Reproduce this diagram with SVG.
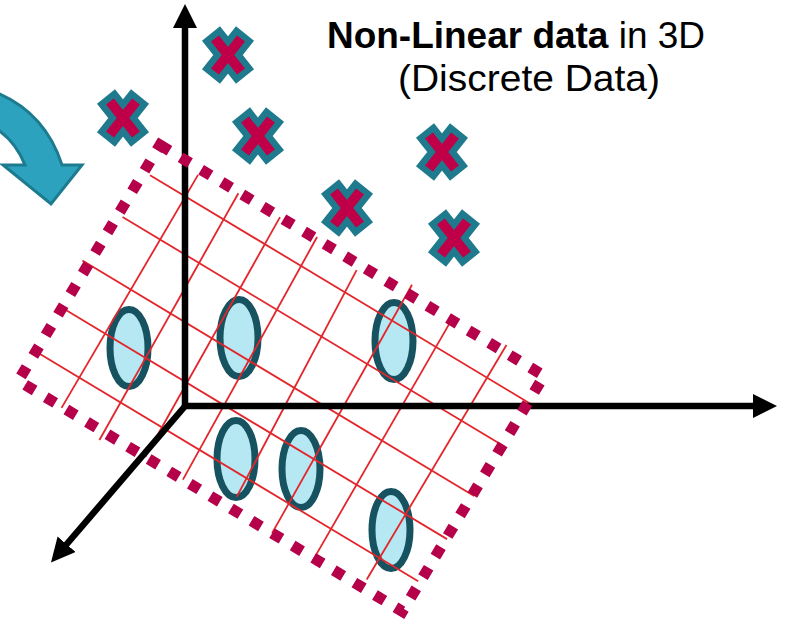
<svg xmlns="http://www.w3.org/2000/svg" width="785" height="625" viewBox="0 0 785 625">
<style>
.grid line{stroke:#e3262b;stroke-width:1.8}
.axis{stroke:#000;stroke-width:6.5;fill:none}
.ell{fill:#b5e8f3;stroke:#16525f;stroke-width:7}
.dots{fill:none;stroke:#b5004a;stroke-width:11;stroke-dasharray:11 13}
.title{font-family:"Liberation Sans",Arial,sans-serif;font-size:37px;fill:#000}
</style>
<defs>
<marker id="ah" markerUnits="userSpaceOnUse" markerWidth="24" markerHeight="24" viewBox="0 0 24 24" refX="1" refY="12" orient="auto"><path d="M0,0 L24,12 L0,24 Z" fill="#000"/></marker>
<g id="xmark">
<path d="M-17,-21.5 L17,21.5 M17,-21.5 L-17,21.5" stroke="#1e7a8c" stroke-width="23"/>
<path d="M-13,-16.5 L13,16.5 M13,-16.5 L-13,16.5" stroke="#bf0048" stroke-width="10"/>
</g>
</defs>
<rect width="785" height="625" fill="#fff"/>
<g id="ellipses">
<ellipse id="e1" class="ell" cx="129" cy="348" rx="19" ry="38.5"/>
<ellipse id="e2" class="ell" cx="239" cy="338" rx="19" ry="38.5"/>
<ellipse id="e3" class="ell" cx="394" cy="341" rx="19" ry="38.5"/>
<ellipse id="e4" class="ell" cx="236" cy="459" rx="19" ry="38.5"/>
<ellipse id="e5" class="ell" cx="301" cy="469" rx="19" ry="38.5"/>
<ellipse id="e6" class="ell" cx="391" cy="530" rx="19" ry="38.5"/>
</g>
<g id="grid" class="grid" transform="translate(160,145) rotate(31)">
<line x1="7" y1="31" x2="456" y2="31"/>
<line x1="5" y1="81" x2="450" y2="81"/>
<line x1="-7" y1="139" x2="450" y2="139"/>
<line x1="-2" y1="190" x2="449" y2="190"/>
<line x1="-3" y1="241" x2="446" y2="241"/>
<line x1="48" y1="6" x2="51" y2="276"/>
<line x1="92" y1="1" x2="100" y2="284"/>
<line x1="140" y1="0" x2="148" y2="275"/>
<line x1="182" y1="-2" x2="192" y2="275"/>
<line x1="233" y1="6" x2="247" y2="262"/>
<line x1="288" y1="-10" x2="296" y2="275"/>
<line x1="340" y1="2" x2="345" y2="277"/>
<line x1="400" y1="-7" x2="401" y2="266"/>
</g>
<g id="axes">
<line class="axis" x1="185" y1="409" x2="185" y2="27" marker-end="url(#ah)"/>
<line class="axis" x1="182" y1="406" x2="754" y2="406" marker-end="url(#ah)"/>
<line class="axis" x1="186" y1="405" x2="66" y2="545" marker-end="url(#ah)"/>
</g>
<g id="plane">
<rect class="dots" x="0" y="0" width="448" height="275" transform="translate(160,145) rotate(31)"/>
</g>
<g id="x1"><use href="#xmark" x="228" y="55"/></g>
<g id="x2"><use href="#xmark" x="123" y="118"/></g>
<g id="x3"><use href="#xmark" x="258" y="136"/></g>
<g id="x4"><use href="#xmark" x="442" y="152"/></g>
<g id="x5"><use href="#xmark" x="347" y="208"/></g>
<g id="x6"><use href="#xmark" x="454" y="238"/></g>
<g id="bigarrow">
<path d="M-5,92 Q45,112 62,165 L82,165 L51,204 L3,165 L25,165 Q15,140 -5,128 Z" fill="#2ca2bf" stroke="#1d7b8f" stroke-width="3" stroke-linejoin="miter"/>
</g>
<g id="title">
<text class="title" x="327" y="48" textLength="378" lengthAdjust="spacingAndGlyphs"><tspan font-weight="bold">Non-Linear data</tspan> in 3D</text>
<text class="title" x="398" y="91" textLength="262" lengthAdjust="spacingAndGlyphs">(Discrete Data)</text>
</g>
</svg>
